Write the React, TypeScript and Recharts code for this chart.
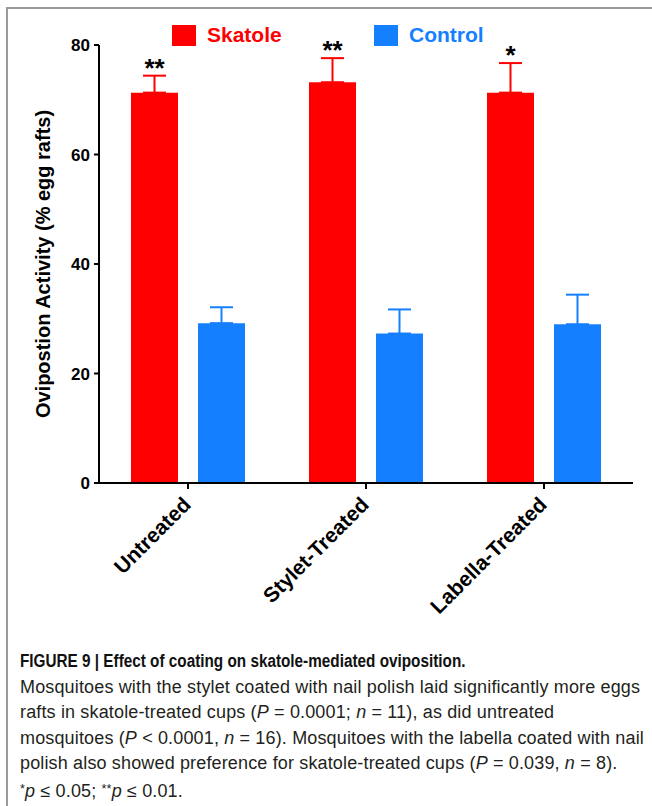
import { BarChart, Bar, XAxis, YAxis, ErrorBar, LabelList, Legend } from "recharts";

const categories = ["Untreated", "Stylet-Treated", "Labella-Treated"];
const skatoleMean = [71.3, 73.2, 71.3];
const skatoleSem = [3.1, 4.4, 5.4];
const controlMean = [29.2, 27.3, 29.0];
const controlSem = [2.9, 4.4, 5.4];
const significance = ["**", "**", "*"];
const yTicks = [0, 20, 40, 60, 80];
const seriesNames = ["Skatole", "Control"];

const RED = "#ff0000";
const BLUE = "#1580ff";
const FONT = "'Liberation Sans', Arial, Helvetica, sans-serif";

const data = categories.map((name, i) => ({
  name,
  skatole: skatoleMean[i],
  skatoleErr: [0, skatoleSem[i]],
  control: controlMean[i],
  controlErr: [0, controlSem[i]],
  sig: significance[i],
}));

function XTick({ x, y, payload }: any) {
  const ax = x + 4;
  const ay = y + 15;
  return (
    <text
      x={ax}
      y={ay}
      transform={`rotate(-45 ${ax} ${ay})`}
      textAnchor="end"
      fontFamily={FONT}
      fontWeight="bold"
      fontSize={21}
      fill="#000"
    >
      {payload.value}
    </text>
  );
}

function YLabel({ viewBox }: any) {
  const cx = 50;
  const cy = viewBox.y + viewBox.height / 2;
  return (
    <text
      x={cx}
      y={cy}
      transform={`rotate(-90 ${cx} ${cy})`}
      textAnchor="middle"
      fontFamily={FONT}
      fontWeight="bold"
      fontSize={20}
      fill="#000"
    >
      Ovipostion Activity (% egg rafts)
    </text>
  );
}

// stars sit a little above the top of the error bar
function SigLabel(props: any) {
  const vb = props.viewBox ?? props;
  const i = props.index;
  const pxPerUnit = vb.height / skatoleMean[i];
  const capY = vb.y - skatoleSem[i] * pxPerUnit;
  return (
    <text
      x={vb.x + vb.width / 2}
      y={capY + 1}
      textAnchor="middle"
      fontFamily={FONT}
      fontWeight="bold"
      fontSize={26}
      fill="#000"
    >
      {props.value}
    </text>
  );
}

function LegendBox() {
  const items = [
    { name: seriesNames[0], color: RED, left: 172, textLeft: 207 },
    { name: seriesNames[1], color: BLUE, left: 374, textLeft: 409 },
  ];
  return (
    <div style={{ position: "relative", width: 652, height: 60 }}>
      {items.map((it) => (
        <div key={it.name}>
          <div
            style={{
              position: "absolute",
              left: it.left,
              top: 25,
              width: 24,
              height: 21,
              background: it.color,
            }}
          />
          <div
            style={{
              position: "absolute",
              left: it.textLeft,
              top: 22,
              fontFamily: FONT,
              fontWeight: "bold",
              fontSize: 21,
              lineHeight: "26px",
              color: it.color,
              whiteSpace: "nowrap",
            }}
          >
            {it.name}
          </div>
        </div>
      ))}
    </div>
  );
}

const supStyle = { fontSize: "0.7em", verticalAlign: "0.35em" };

export default function App() {
  return (
    <div style={{ position: "relative", width: 652, height: 806, background: "#fff", overflow: "hidden" }}>
      <style>{"body{margin:0}"}</style>
      <div
        style={{
          position: "absolute",
          left: 6,
          top: 7,
          width: 700,
          height: 900,
          borderTop: "2px solid #9a9a9a",
          borderLeft: "2px solid #9a9a9a",
        }}
      />
      <div style={{ position: "absolute", left: 0, top: 0 }}>
        <BarChart
          width={652}
          height={640}
          data={data}
          margin={{ top: 45, right: 19, left: 0, bottom: 0 }}
          barSize={47}
          barGap={20}
        >
          <XAxis
            dataKey="name"
            height={157}
            interval={0}
            tick={<XTick />}
            axisLine={{ stroke: "#000", strokeWidth: 2 }}
            tickLine={{ stroke: "#000", strokeWidth: 2 }}
            tickSize={6}
          />
          <YAxis
            width={99}
            domain={[0, 80]}
            ticks={yTicks}
            interval={0}
            tickSize={5}
            tickMargin={4}
            tick={{ fontFamily: FONT, fontWeight: "bold", fontSize: 17, fill: "#000" }}
            axisLine={{ stroke: "#000", strokeWidth: 2 }}
            tickLine={{ stroke: "#000", strokeWidth: 2 }}
            label={{ content: <YLabel /> }}
          />
          <Legend
            layout="horizontal"
            verticalAlign="middle"
            align="center"
            wrapperStyle={{ top: 0, left: 0, width: 652, height: 60 }}
            content={<LegendBox />}
          />
          <Bar dataKey="skatole" name={seriesNames[0]} fill={RED} isAnimationActive={false}>
            <ErrorBar dataKey="skatoleErr" direction="y" width={11.5} stroke={RED} strokeWidth={2} />
            <LabelList dataKey="sig" content={<SigLabel />} />
          </Bar>
          <Bar dataKey="control" name={seriesNames[1]} fill={BLUE} isAnimationActive={false}>
            <ErrorBar dataKey="controlErr" direction="y" width={11.5} stroke={BLUE} strokeWidth={2} />
          </Bar>
        </BarChart>
      </div>
      <div
        style={{
          position: "absolute",
          left: 20,
          top: 649,
          fontFamily: FONT,
          fontSize: 18,
          letterSpacing: 0.15,
          lineHeight: "25.5px",
          color: "#231f20",
          whiteSpace: "nowrap",
        }}
      >
        <div
          style={{
            fontWeight: "bold",
            color: "#111",
            letterSpacing: 0,
            transform: "scaleX(0.85)",
            transformOrigin: "left center",
          }}
        >
          FIGURE 9 | Effect of coating on skatole-mediated oviposition.
        </div>
        <div>Mosquitoes with the stylet coated with nail polish laid significantly more eggs</div>
        <div>
          rafts in skatole-treated cups (<i>P</i> = 0.0001; <i>n</i> = 11), as did untreated
        </div>
        <div>
          mosquitoes (<i>P</i> &lt; 0.0001, <i>n</i> = 16). Mosquitoes with the labella coated with nail
        </div>
        <div>
          polish also showed preference for skatole-treated cups (<i>P</i> = 0.039, <i>n</i> = 8).
        </div>
        <div>
          <sup style={supStyle}>*</sup>
          <i>p</i> ≤ 0.05; <sup style={supStyle}>**</sup>
          <i>p</i> ≤ 0.01.
        </div>
      </div>
    </div>
  );
}
